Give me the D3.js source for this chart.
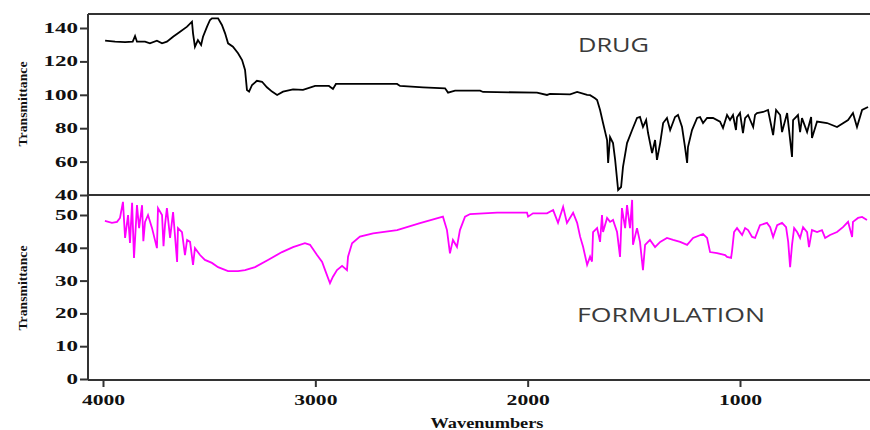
<!DOCTYPE html>
<html>
  <head>
    <meta charset="utf-8" />
    <title>FTIR Drug vs Formulation</title>
    <script src="https://d3js.org/d3.v7.min.js"></script>
    <style>
      body {
        margin: 0;
        background: #fff;
      }
    </style>
  </head>
  <body>
    <svg id="chart"></svg>

    <script>
      // values (wavenumber, transmittance)
      var drugWn = [3990, 3943, 3896, 3860, 3849, 3840, 3802, 3779, 3746, 3722, 3699, 3670, 3637, 3604, 3581, 3576, 3567, 3553, 3538, 3529, 3510, 3496, 3487, 3458, 3440, 3425, 3411, 3388, 3364, 3345, 3331, 3322, 3312, 3298, 3275, 3251, 3228, 3204, 3180, 3152, 3105, 3058, 3001, 2936, 2917, 2903, 2884, 2615, 2601, 2493, 2389, 2375, 2342, 2224, 2210, 1956, 1909, 1895, 1800, 1767, 1720, 1706, 1683, 1673, 1659, 1645, 1626, 1621, 1612, 1598, 1588, 1574, 1560, 1551, 1532, 1508, 1485, 1471, 1457, 1442, 1433, 1414, 1400, 1391, 1376, 1362, 1344, 1329, 1306, 1292, 1273, 1259, 1249, 1245, 1226, 1202, 1188, 1174, 1155, 1127, 1094, 1080, 1061, 1047, 1033, 1019, 1014, 1000, 986, 976, 962, 938, 929, 920, 891, 868, 844, 830, 811, 802, 778, 755, 750, 727, 717, 708, 684, 665, 661, 637, 590, 543, 491, 468, 449, 425, 397];
      var drugT = [132.4, 131.8, 131.6, 131.8, 135.2, 131.8, 131.8, 130.8, 132.4, 130.8, 131.8, 134.8, 137.8, 140.8, 143.8, 136.8, 128.8, 132.8, 129.8, 134.8, 140.8, 144.8, 145.8, 145.8, 141.8, 136.8, 130.8, 128.8, 124.9, 120.8, 114.9, 102.9, 101.9, 105.9, 108.4, 107.8, 104.5, 101.9, 99.9, 101.9, 103.3, 102.9, 105.3, 105.3, 103.5, 106.5, 106.5, 106.5, 105.3, 104.5, 103.9, 101.3, 102.5, 102.5, 101.7, 101.3, 99.9, 100.5, 100.3, 101.7, 99.9, 99.8, 97.9, 96.9, 90.9, 83.1, 72.9, 59.2, 74.7, 71.1, 61, 43, 44.8, 56.8, 71.1, 78.9, 86.1, 86.7, 80.7, 84.9, 77.1, 65.1, 72.9, 61, 71.1, 83.1, 86.1, 78.9, 86.7, 87.9, 80.7, 68.7, 59.2, 68.7, 78.9, 86.1, 86.7, 83.1, 86.1, 86.1, 83.9, 80.1, 87.9, 84.9, 87.9, 78.9, 86.5, 89.1, 77.1, 86.0, 87.9, 80.7, 88.0, 89.1, 89.7, 90.9, 75.9, 90.9, 87.9, 77.7, 89.1, 62.8, 84.9, 87.9, 77.7, 86.0, 77.7, 86.7, 74.1, 84.0, 83.1, 80.7, 84.9, 89.1, 80.7, 90.9, 92.7, 90.9];

      var formWn = [3991, 3958, 3934, 3920, 3906, 3896, 3882, 3873, 3863, 3854, 3840, 3830, 3816, 3810, 3802, 3788, 3769, 3746, 3741, 3722, 3715, 3708, 3699, 3684, 3670, 3651, 3647, 3628, 3614, 3604, 3590, 3576, 3567, 3543, 3520, 3487, 3458, 3411, 3364, 3331, 3284, 3223, 3157, 3105, 3049, 3025, 2992, 2968, 2954, 2931, 2917, 2898, 2874, 2851, 2846, 2827, 2790, 2728, 2615, 2507, 2399, 2380, 2366, 2352, 2333, 2319, 2295, 2271, 2144, 2003, 1998, 1975, 1909, 1880, 1857, 1833, 1815, 1786, 1767, 1753, 1739, 1720, 1706, 1697, 1692, 1673, 1659, 1650, 1645, 1626, 1612, 1598, 1579, 1565, 1556, 1541, 1532, 1518, 1508, 1504, 1485, 1471, 1457, 1447, 1424, 1400, 1376, 1344, 1315, 1282, 1249, 1221, 1174, 1155, 1141, 1108, 1070, 1061, 1042, 1037, 1028, 1014, 990, 976, 962, 943, 929, 906, 873, 858, 844, 825, 802, 783, 773, 764, 755, 745, 731, 717, 703, 684, 675, 661, 637, 614, 599, 576, 543, 515, 491, 472, 468, 444, 425, 402];
      var formT = [48.2, 47.6, 47.9, 49.1, 54.0, 43.0, 50.0, 41.5, 53.7, 36.9, 53.0, 46.0, 53.0, 42.0, 47.9, 50.0, 46.0, 39.9, 52.1, 50.0, 40.5, 47.0, 52.1, 43.0, 50.9, 35.7, 46.0, 44.8, 37.8, 42.4, 41.8, 34.8, 39.9, 37.8, 36.3, 35.4, 34.1, 32.9, 32.9, 33.2, 34.1, 36.3, 38.7, 40.2, 41.4, 40.9, 37.8, 35.7, 33.2, 29.2, 31.2, 33.2, 34.5, 33.2, 37.3, 41.4, 43.4, 44.4, 45.4, 47.5, 49.5, 45.4, 38.3, 42.4, 40.3, 45.4, 49.5, 50.3, 50.7, 50.7, 49.5, 50.5, 50.5, 51.5, 47.6, 52.5, 47.6, 50.7, 47.6, 43.4, 40.3, 34.8, 37.3, 35.8, 44.8, 46.0, 41.8, 50.0, 44.8, 49.1, 47.9, 48.5, 44.8, 37.2, 52.1, 46.0, 53.0, 46.0, 54.6, 40.9, 46.0, 41.8, 33.2, 40.9, 42.4, 40.2, 41.8, 43.0, 42.4, 41.8, 40.9, 43.0, 44.2, 43.0, 38.7, 38.4, 37.8, 37.2, 36.9, 39.3, 44.8, 46.0, 43.9, 46.0, 45.4, 43.3, 43.0, 46.9, 47.6, 46.3, 43.3, 46.9, 47.6, 46.3, 41.8, 34.1, 40.9, 46.0, 44.8, 43.0, 46.3, 44.8, 40.2, 45.4, 44.8, 45.4, 43.0, 43.9, 44.8, 46.3, 47.9, 43.3, 47.9, 49.1, 49.4, 48.5];

      var xTicks = [4000, 3000, 2000, 1000];
      var drugTicks = [40, 60, 80, 100, 120, 140];
      var formTicks = [0, 10, 20, 30, 40, 50];

      var width = 870;
      var height = 430;
      var left = 88;
      var right = 870;
      var topY = 14;
      var midY = 195;
      var bottomY = 380;

      var svg = d3.select("#chart")
        .attr("width", width)
        .attr("height", height);

      var x = d3.scaleLinear()
        .domain([4000, 1000])
        .range([103, 740]);

      var yDrug = d3.scaleLinear()
        .domain([40, 140])
        .range([195, 28]);

      var yForm = d3.scaleLinear()
        .domain([0, 50])
        .range([379, 215]);

      var axisColor = "#333";
      var tickFont = "'Liberation Serif', 'Times New Roman', serif";

      // frame lines
      svg.append("line")
        .attr("x1", left).attr("x2", right)
        .attr("y1", topY).attr("y2", topY)
        .attr("stroke", axisColor).attr("stroke-width", 2);
      svg.append("line")
        .attr("x1", left).attr("x2", right)
        .attr("y1", midY).attr("y2", midY)
        .attr("stroke", axisColor).attr("stroke-width", 2);

      function styleAxis(g, charW) {
        g.select(".domain").attr("stroke", axisColor).attr("stroke-width", 2);
        g.selectAll(".tick line").attr("stroke", axisColor).attr("stroke-width", 2);
        g.selectAll(".tick text")
          .attr("fill", "#111")
          .style("font-family", tickFont)
          .style("font-weight", "bold")
          .style("font-size", "14px")
          .attr("textLength", function(d) { return String(d).length * charW; })
          .attr("lengthAdjust", "spacingAndGlyphs");
      }

      // left axes
      var gDrug = svg.append("g")
        .attr("transform", "translate(" + left + ",0)")
        .call(d3.axisLeft(yDrug).tickValues(drugTicks).tickSize(8).tickPadding(2).tickSizeOuter(0));
      styleAxis(gDrug, 11.5);
      gDrug.select(".domain").attr("d", "M0," + topY + "V" + midY);

      var gForm = svg.append("g")
        .attr("transform", "translate(" + left + ",0)")
        .call(d3.axisLeft(yForm).tickValues(formTicks).tickSize(8).tickPadding(2).tickSizeOuter(0));
      styleAxis(gForm, 11.5);
      gForm.select(".domain").attr("d", "M0," + midY + "V" + bottomY);

      // bottom axis
      var gx = svg.append("g")
        .attr("transform", "translate(0," + bottomY + ")")
        .call(d3.axisBottom(x).tickValues(xTicks).tickSize(7).tickPadding(8).tickSizeOuter(0).tickFormat(d3.format("d")));
      styleAxis(gx, 10.8);
      gx.select(".domain").attr("d", "M" + left + ",0H" + right);

      // spectra
      var drugLine = d3.line()
        .x(function(d, i) { return x(drugWn[i]); })
        .y(function(d) { return yDrug(d); });

      var formLine = d3.line()
        .x(function(d, i) { return x(formWn[i]); })
        .y(function(d) { return yForm(d); });

      svg.append("path")
        .attr("d", drugLine(drugT))
        .attr("fill", "none")
        .attr("stroke", "#000")
        .attr("stroke-width", 1.8);

      svg.append("path")
        .attr("d", formLine(formT))
        .attr("fill", "none")
        .attr("stroke", "#ff00ff")
        .attr("stroke-width", 1.8);

      // labels
      svg.append("text")
        .attr("x", 578).attr("y", 52)
        .attr("textLength", 71).attr("lengthAdjust", "spacingAndGlyphs")
        .style("font-family", "'Open Sans', 'Liberation Sans', sans-serif")
        .style("font-size", "20px")
        .attr("fill", "#3a3a3a")
        .text("DRUG");

      svg.append("text")
        .attr("x", 577).attr("y", 322)
        .attr("textLength", 188).attr("lengthAdjust", "spacingAndGlyphs")
        .style("font-family", "'Open Sans', 'Liberation Sans', sans-serif")
        .style("font-size", "20px")
        .attr("fill", "#3a3a3a")
        .text("FORMULATION");

      function yLabel(cy) {
        svg.append("text")
          .attr("transform", "translate(27," + cy + ") rotate(-90)")
          .attr("text-anchor", "middle")
          .attr("textLength", 85).attr("lengthAdjust", "spacingAndGlyphs")
          .style("font-family", tickFont)
          .style("font-weight", "bold")
          .style("font-size", "13px")
          .attr("fill", "#111")
          .text("Transmittance");
      }
      yLabel(104);
      yLabel(288);

      svg.append("text")
        .attr("x", 487).attr("y", 428)
        .attr("text-anchor", "middle")
        .attr("textLength", 113).attr("lengthAdjust", "spacingAndGlyphs")
        .style("font-family", tickFont)
        .style("font-weight", "bold")
        .style("font-size", "15px")
        .attr("fill", "#111")
        .text("Wavenumbers");
    </script>
  </body>
</html>
